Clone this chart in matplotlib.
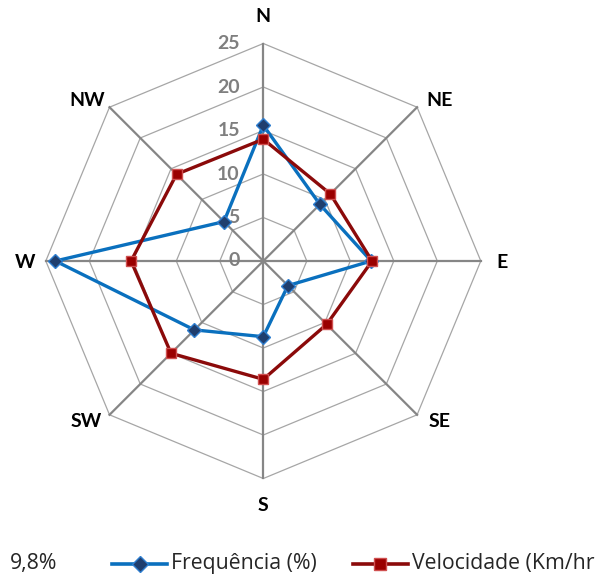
import numpy as np
import matplotlib
matplotlib.use("Agg")
import matplotlib.pyplot as plt
from matplotlib.lines import Line2D

directions = ["N", "NE", "E", "SE", "S", "SW", "W", "NW"]
frequencia = [15.6, 9.2, 12.4, 4.0, 8.7, 11.2, 23.9, 6.4]
velocidade = [14.0, 10.9, 12.5, 10.3, 13.6, 15.0, 15.2, 14.1]
ticks = [0, 5, 10, 15, 20, 25]
rmax = 25
legend_labels = ["Frequência (%)", "Velocidade (Km/hr"]
side_text = "9,8%"

plt.rcParams['font.family'] = ['Lato', 'DejaVu Sans']

W, H = 595, 579
fig = plt.figure(figsize=(W / 100, H / 100), dpi=100)
ax = fig.add_axes([0, 0, 1, 1])
ppu = 8.7
cx, cy = 263.3, 261.0
ax.set_xlim(-cx / ppu, (W - cx) / ppu)
ax.set_ylim(-(H - cy) / ppu, cy / ppu)
ax.set_aspect('equal')
ax.axis('off')

n = len(directions)
ang = np.pi / 2 - np.arange(n) * 2 * np.pi / n

def xy(vals):
    v = np.asarray(vals, dtype=float)
    x = v * np.cos(ang)
    y = v * np.sin(ang)
    return np.append(x, x[0]), np.append(y, y[0])

# rings
for t in ticks[1:]:
    x, y = xy([t] * n)
    ax.plot(x, y, color='#a6a6a6', lw=0.9, zorder=1)
# spokes
for a in ang:
    ax.plot([0, rmax * np.cos(a)], [0, rmax * np.sin(a)], color='#868686', lw=1.6, zorder=2)

# tick labels
for t in ticks:
    ax.text(-2.7, t, str(t), ha='right', va='center', color='#7f7f7f',
            fontsize=14, fontweight='bold', zorder=3)

# direction labels
for d, a in zip(directions, ang):
    c, s = np.cos(a), np.sin(a)
    if abs(c) < 1e-6:
        px, py = 0, 28.1 * np.sign(s)
    elif abs(s) < 1e-6:
        px, py = 27.4 * np.sign(c), -0.2
    else:
        px, py = 20.3 * np.sign(c), 18.5 * np.sign(s)
    ax.text(px, py, d, ha='center', va='center',
            fontsize=14, fontweight='bold', color='black')

blue = '#0a70be'
red = '#8b0a0a'
x, y = xy(frequencia)
ax.plot(x, y, color=blue, lw=2.4, zorder=4)
ax.plot(x[:-1], y[:-1], ls='none', marker='D', ms=7, mfc='#1f3e6e', mec='#2f7fd0', mew=1.0, zorder=5)
x, y = xy(velocidade)
ax.plot(x, y, color=red, lw=2.4, zorder=6)
ax.plot(x[:-1], y[:-1], ls='none', marker='s', ms=7.5, mfc='#9a0000', mec='#d05050', mew=1.0, zorder=7)

# legend row
ly = 1 - 564 / H
lf = ['Open Sans', 'DejaVu Sans']
fs = 15.3
fig.text(10 / W, ly, side_text, ha='left', va='center', fontsize=fs, color='#262626', family=lf)
fig.add_artist(Line2D([112 / W, 167 / W], [ly, ly], color=blue, lw=2.6, transform=fig.transFigure))
fig.add_artist(Line2D([140 / W], [ly], ls='none', marker='D', ms=8, mfc='#1f3e6e', mec='#2f7fd0',
                      mew=1.0, transform=fig.transFigure))
fig.text(171 / W, ly, legend_labels[0], ha='left', va='center', fontsize=fs, color='#262626', family=lf)
fig.add_artist(Line2D([353 / W, 408 / W], [ly, ly], color=red, lw=2.6, transform=fig.transFigure))
fig.add_artist(Line2D([380 / W], [ly], ls='none', marker='s', ms=8, mfc='#9a0000', mec='#d05050',
                      mew=1.0, transform=fig.transFigure))
fig.text(412 / W, ly, legend_labels[1], ha='left', va='center', fontsize=fs, color='#262626', family=lf)

fig.savefig('out.png', dpi=100)
